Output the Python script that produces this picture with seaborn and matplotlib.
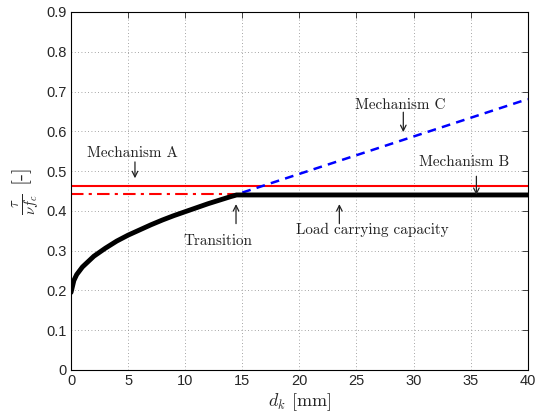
import numpy as np
import pandas as pd
import matplotlib
matplotlib.use('Agg')
import matplotlib.pyplot as plt
import seaborn as sns

# data
capacity_x = [0, 0.25, 0.5, 1, 2, 3, 4, 5, 6, 7, 8, 9, 10, 11, 12, 13, 14, 14.5, 20, 30, 40]
capacity_y = [0.195, 0.225, 0.240, 0.259, 0.286, 0.306, 0.324, 0.339, 0.352, 0.365,
              0.377, 0.388, 0.398, 0.408, 0.418, 0.427, 0.436, 0.440, 0.440, 0.440, 0.440]
mech_a_x = [0, 40]
mech_a_y = [0.462, 0.462]
mech_a_low_x = [0, 14.5]
mech_a_low_y = [0.442, 0.442]
mech_c_x = [15, 40]
mech_c_y = [0.446, 0.681]

# (label, text x, text y, arrow tail y, arrow head y, arrow x)
notes = [
    ('Mechanism A', 5.4, 0.545, 0.523, 0.482, 5.6),
    ('Mechanism C', 28.8, 0.667, 0.648, 0.598, 29.1),
    ('Mechanism B', 34.4, 0.522, 0.487, 0.440, 35.5),
    ('Transition', 12.9, 0.323, 0.368, 0.417, 14.45),
    ('Load carrying capacity', 26.4, 0.352, 0.368, 0.417, 23.5),
]

sns.set_style('white')
plt.rcParams['font.family'] = ['Liberation Sans', 'DejaVu Sans']
plt.rcParams['mathtext.fontset'] = 'cm'

fig = plt.figure(figsize=(5.38, 4.16), dpi=100)
ax = fig.add_axes([0.132, 0.1106, 0.849, 0.8606])

sns.lineplot(x=mech_a_x, y=mech_a_y, color='red', lw=1.5, ax=ax)
sns.lineplot(x=mech_a_low_x, y=mech_a_low_y, color='red', lw=1.5, ax=ax,
             linestyle=(0, (6, 2.5, 1.5, 2.5)))
sns.lineplot(x=mech_c_x, y=mech_c_y, color='blue', lw=1.8, ax=ax,
             linestyle=(0, (3.5, 2.5)))
sns.lineplot(x=capacity_x, y=capacity_y, color='black', lw=3.5, ax=ax, sort=False)

for label, tx, ty, y0, y1, axx in notes:
    ax.text(tx, ty, label, family='cmr10', fontsize=10.9, ha='center', va='center', color='#222222')
    ax.annotate('', xy=(axx, y1), xytext=(axx, y0),
                arrowprops=dict(arrowstyle='->', color='#222222', lw=0.9,
                                shrinkA=0, shrinkB=0))

ax.set_xlim(0, 40)
ax.set_ylim(0, 0.9)
ax.set_xticks(np.arange(0, 41, 5))
ax.set_yticks(np.arange(0, 0.91, 0.1))
ax.set_xticklabels([str(v) for v in range(0, 41, 5)])
ax.set_yticklabels(['0'] + ['%.1f' % v for v in np.arange(0.1, 0.91, 0.1)])
ax.tick_params(direction='in', length=4, labelsize=10.5, top=True, right=True,
               width=0.6, pad=3)
ax.grid(True, linestyle=(0, (1, 3)), color='#888888', lw=0.6)
for s in ax.spines.values():
    s.set_linewidth(0.8)
    s.set_color('black')

ax.set_xlabel(r'$d_k$ [mm]', family='cmr10', fontsize=13, labelpad=2)
ax.set_ylabel(r'$\frac{\tau}{\nu f_c}$ [-]', family='cmr10', fontsize=15, labelpad=4)

fig.savefig('out.png', dpi=100)
